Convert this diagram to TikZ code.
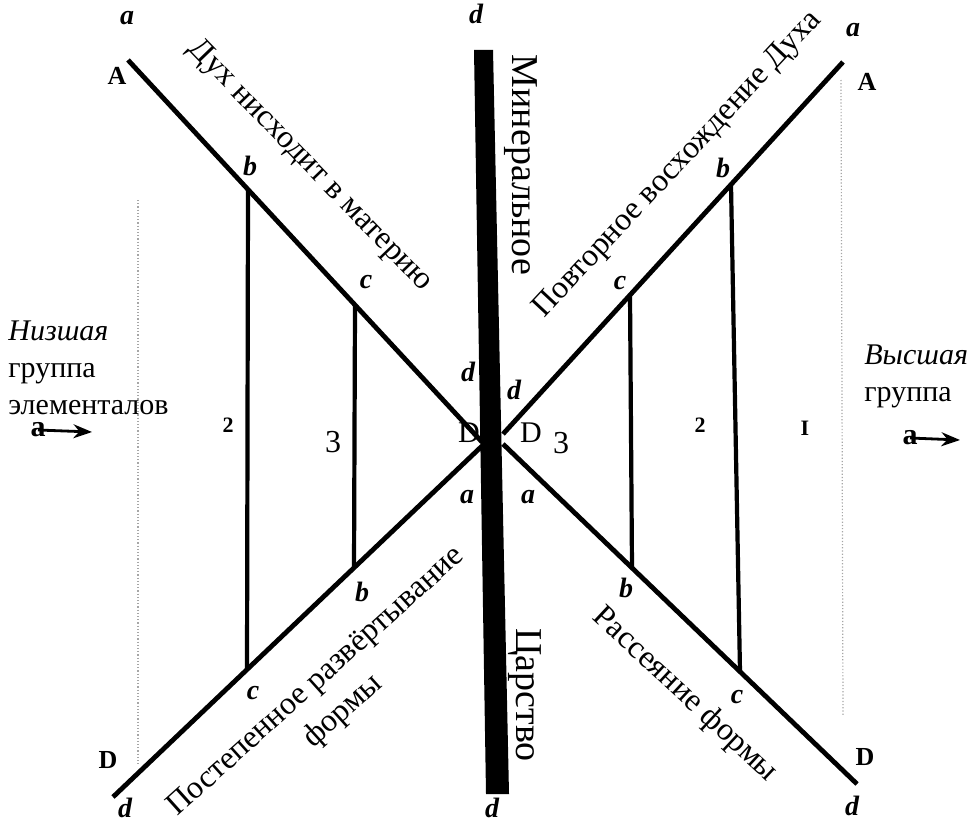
\documentclass[tikz,border=0pt]{standalone}
\usepackage{fontspec}
\setmainfont{Liberation Serif}
\usetikzlibrary{arrows.meta}

\begin{document}
\begin{tikzpicture}[
  x=0.5pt, y=-0.5pt,
  letter/.style={font=\bfseries\itshape\fontsize{14}{16}\selectfont, inner sep=0pt},
  capital/.style={font=\bfseries\fontsize{13}{15}\selectfont, inner sep=0pt},
  num/.style={font=\bfseries\fontsize{11}{13}\selectfont, inner sep=0pt},
  phrase/.style={font=\fontsize{16}{20}\selectfont, inner sep=0pt, align=center},
  realm/.style={font=\fontsize{19}{22}\selectfont, inner sep=0pt, rotate=-90},
  side/.style={font=\fontsize{15}{18.5}\selectfont, inner sep=0pt, align=left},
  ray/.style={line width=2.4pt},
  rung/.style={line width=2.1pt},
  guide/.style={densely dotted, gray!70, line width=0.6pt},
  >=Stealth
]
\useasboundingbox (0,0) rectangle (972,824);

% ends of the four rays
\coordinate (TL) at (128,60);
\coordinate (TR) at (843,62);
\coordinate (BL) at (113,797);
\coordinate (BR) at (857,784);
\coordinate (ctl) at (482,442);
\coordinate (ctr) at (503,434);
\coordinate (cbl) at (482,446);
\coordinate (cbr) at (503,444);

% ends of the vertical rungs
\coordinate (l2t) at (248,190);
\coordinate (l2b) at (247,670);
\coordinate (l3t) at (355,305);
\coordinate (l3b) at (354,568);
\coordinate (r3t) at (630,295);
\coordinate (r3b) at (632,568);
\coordinate (r2t) at (731,185);
\coordinate (r2b) at (740,672);

% dotted guides
\coordinate (gl1) at (138,200);
\coordinate (gl2) at (138,765);
\coordinate (gr1) at (841,80);
\coordinate (gr2) at (843,715);
\draw[guide] (gl1) -- (gl2);
\draw[guide] (gr1) -- (gr2);

\draw[ray] (TL) -- (ctl);
\draw[ray] (TR) -- (ctr);
\draw[ray] (BL) -- (cbl);
\draw[ray] (BR) -- (cbr);

\draw[rung] (l2t) -- (l2b);
\draw[rung] (l3t) -- (l3b);
\draw[rung] (r3t) -- (r3b);
\draw[rung] (r2t) -- (r2b);

% the mineral kingdom bar
\fill (474,50) -- (493,50) -- (509,794) -- (486,794) -- cycle;

% point letters
\node[letter] (aTL) at (127,18) {a};
\node[capital] (ATL) at (117,76) {A};
\node[letter] (dTop) at (476,14) {d};
\node[letter] (aTR) at (853,30) {a};
\node[capital] (ATR) at (867,82) {A};
\node[letter] (bL) at (250,166) {b};
\node[letter] (cL) at (366,282) {c};
\node[letter] (bR) at (723,168) {b};
\node[letter] (cR) at (620,283) {c};
\node[letter] (dCL) at (468,372) {d};
\node[letter] (dCR) at (514,390) {d};
\node[capital, font=\fontsize{15}{17}\selectfont] (DCL) at (469,433) {D};
\node[capital, font=\fontsize{15}{17}\selectfont] (DCR) at (531,433) {D};
\node[letter] (aCL) at (467,497) {a};
\node[letter] (aCR) at (528,497) {a};
\node[letter] (bBL) at (362,592) {b};
\node[letter] (cBL) at (253,693) {c};
\node[capital] (DBL) at (108,760) {D};
\node[letter] (dBL) at (125,808) {d};
\node[letter] (dBot) at (492,808) {d};
\node[letter] (bBR) at (626,588) {b};
\node[letter] (cBR) at (737,697) {c};
\node[capital] (DBR) at (865,757) {D};
\node[letter] (dBR) at (852,806) {d};

% numbers of the zones
\node[num] (n2L) at (228,425) {2};
\node[phrase] (n3L) at (333,442) {3};
\node[phrase] (n3R) at (561,443) {3};
\node[num] (n2R) at (700,425) {2};
\node[num] (n1R) at (805,428) {I};

% captions along the rays
\node[phrase, rotate=-46] (down) at (310,166) {Дух нисходит в материю};
\node[phrase, rotate=47] (up) at (678,165) {Повторное восхождение Духа};
\node[phrase, rotate=42] (unfold) at (330,697) {Постепенное развёртывание\\формы};
\node[phrase, rotate=-43] (scatter) at (685,695) {Рассеяние формы};
\node[realm] (mineral) at (521,165) {Минеральное};
\node[realm] (kingdom) at (525,695) {Царство};

% the two groups
\node[side, anchor=west] (low) at (8,368) {\textit{Низшая}\\группа\\элементалов};
\node[side, anchor=west] (high) at (864,376) {\textit{Высшая}\\группа};

\node[font=\bfseries\fontsize{15}{17}\selectfont, inner sep=0pt] (lowa) at (38,430) {a};
\coordinate (lowtip) at (92,432);
\draw[->, line width=1.4pt] (lowa.center) -- (lowtip);
\node[font=\bfseries\fontsize{15}{17}\selectfont, inner sep=0pt] (higha) at (910,438) {a};
\coordinate (hightip) at (960,440);
\draw[->, line width=1.4pt] (higha.center) -- (hightip);
\end{tikzpicture}
\end{document}
